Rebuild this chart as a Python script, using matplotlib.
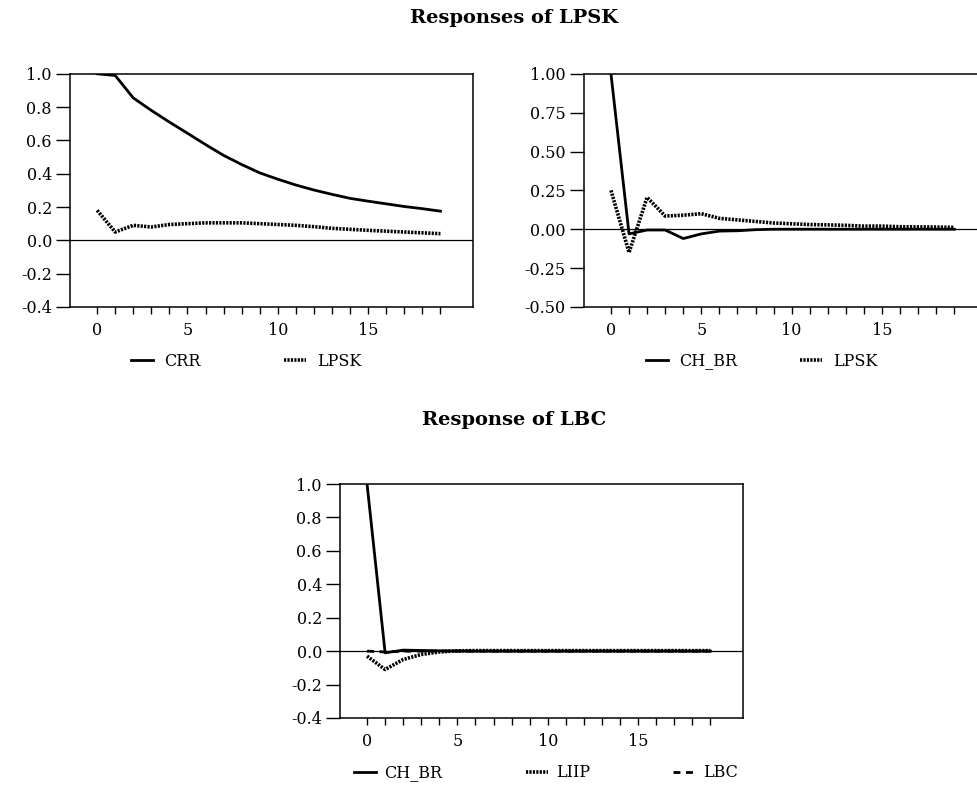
import numpy as np
import matplotlib.pyplot as plt
from matplotlib.ticker import MultipleLocator, FixedLocator

plt.rcParams['font.family'] = ['DejaVu Serif']

periods = np.arange(20)

# Responses of LPSK (left panel)
crr_left = [1.0, 0.99, 0.855, 0.78, 0.71, 0.643, 0.575, 0.51, 0.455, 0.405,
            0.367, 0.332, 0.302, 0.276, 0.252, 0.235, 0.219, 0.203, 0.19, 0.175]
lpsk_left = [0.18, 0.05, 0.09, 0.08, 0.095, 0.10, 0.105, 0.105, 0.105, 0.10,
             0.095, 0.09, 0.082, 0.072, 0.066, 0.06, 0.055, 0.05, 0.045, 0.04]

# Responses of LPSK (right panel)
chbr_right = [1.0, -0.03, -0.005, -0.005, -0.06, -0.03, -0.012, -0.01, -0.003, 0.0,
              0.0, 0.0, 0.0, 0.0, 0.0, 0.0, 0.0, 0.0, 0.0, 0.0]
lpsk_right = [0.25, -0.15, 0.205, 0.085, 0.09, 0.10, 0.07, 0.06, 0.05, 0.04,
              0.035, 0.03, 0.028, 0.025, 0.02, 0.02, 0.016, 0.015, 0.014, 0.012]

# Response of LBC
chbr_lbc = [1.0, -0.01, 0.006, 0.004, 0.002, 0.001, 0.0, 0.0, 0.0, 0.0,
            0.0, 0.0, 0.0, 0.0, 0.0, 0.0, 0.0, 0.0, 0.0, 0.0]
liip_lbc = [-0.03, -0.11, -0.05, -0.02, -0.005, 0.002, 0.003, 0.003, 0.003, 0.003,
            0.003, 0.003, 0.003, 0.003, 0.003, 0.003, 0.003, 0.003, 0.003, 0.003]
lbc_lbc = [0.0, -0.005, 0.0, 0.0, 0.0, 0.0, 0.0, 0.0, 0.0, 0.0,
           0.0, 0.0, 0.0, 0.0, 0.0, 0.0, 0.0, 0.0, 0.0, 0.0]

fig = plt.figure(figsize=(9.78, 7.85), dpi=100)

W, H = 0.412, 0.297
ax1 = fig.add_axes([0.0716, 0.609, W, H])
ax2 = fig.add_axes([0.597, 0.609, W, H])
ax3 = fig.add_axes([0.3476, 0.0854, W, 0.298])


def style(ax, ylim, ystep, fmt):
    ax.set_xlim(-1.5, 20.8)
    ax.set_ylim(*ylim)
    ax.axhline(0, color='black', lw=0.9, zorder=1)
    ax.set_xticks([0, 5, 10, 15])
    ax.xaxis.set_minor_locator(FixedLocator(list(periods)))
    ax.yaxis.set_major_locator(MultipleLocator(ystep))
    ax.yaxis.set_major_formatter(plt.FuncFormatter(lambda v, p: fmt.format(v)))
    ax.tick_params(axis='x', which='both', direction='out', length=5, width=1, labelsize=11.5, pad=6)
    ax.tick_params(axis='y', direction='out', length=10, width=1, labelsize=11.5, pad=3)
    for s in ax.spines.values():
        s.set_linewidth(1.1)


lw = 2.0
dots = (0, (0.6, 0.35))
ax1.plot(periods, crr_left, color='black', lw=lw, label='CRR')
ax1.plot(periods, lpsk_left, color='black', lw=2.6, ls=dots, label='LPSK')
style(ax1, (-0.4, 1.0), 0.2, '{:.1f}')
ax1.legend(loc='center', bbox_to_anchor=(0.437, -0.232), ncol=2, frameon=False,
           fontsize=11.5, handlelength=1.4, handletextpad=0.7, columnspacing=5.2)

ax2.plot(periods, chbr_right, color='black', lw=lw, label='CH_BR')
ax2.plot(periods, lpsk_right, color='black', lw=2.6, ls=dots, label='LPSK')
style(ax2, (-0.5, 1.0), 0.25, '{:.2f}')
ax2.legend(loc='center', bbox_to_anchor=(0.442, -0.232), ncol=2, frameon=False,
           fontsize=11.5, handlelength=1.4, handletextpad=0.7, columnspacing=3.9)

ax3.plot(periods, chbr_lbc, color='black', lw=lw, label='CH_BR')
ax3.plot(periods, liip_lbc, color='black', lw=2.6, ls=dots, label='LIIP')
ax3.plot(periods, lbc_lbc, color='black', lw=lw, ls=(0, (2.5, 2.0)), label='LBC')
style(ax3, (-0.4, 1.0), 0.2, '{:.1f}')
ax3.legend(loc='center', bbox_to_anchor=(0.512, -0.235), ncol=3, frameon=False,
           fontsize=11.5, handlelength=1.4, handletextpad=0.5, columnspacing=5.2)

fig.text(0.526, 0.977, 'Responses of LPSK', ha='center', va='center',
         fontsize=14, fontweight='bold')
fig.text(0.526, 0.465, 'Response of LBC', ha='center', va='center',
         fontsize=14, fontweight='bold')

fig.savefig('out.png', dpi=100)
